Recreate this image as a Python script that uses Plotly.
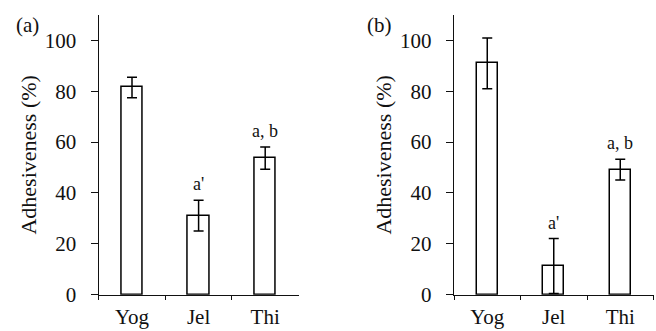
import plotly.graph_objects as go
from plotly.subplots import make_subplots

categories = ["Yog", "Jel", "Thi"]
values_a = [81.5, 31.1, 53.7]
errors_a = [4.0, 6.0, 4.4]
values_b = [91.0, 11.3, 49.2]
errors_b = [10.0, 10.8, 4.1]
labels_a = ["", "a'", "a, b"]
labels_b = ["", "a'", "a, b"]
yticks = [0, 20, 40, 60, 80, 100]

FONT = "Liberation Serif"
W, H = 656, 331
FS = 21

fig = make_subplots(rows=1, cols=2)

for col, vals, errs in [(1, values_a, errors_a), (2, values_b, errors_b)]:
    fig.add_trace(go.Bar(
        x=categories, y=vals,
        width=0.32,
        marker=dict(color="white", line=dict(color="black", width=1.5)),
        error_y=dict(type="data", array=errs, visible=True,
                     color="black", thickness=1.5, width=5),
        showlegend=False,
    ), row=1, col=col)

ydom = [(331 - 294.7) / H, (331 - 15) / H]
fig.update_layout(
    width=W, height=H,
    margin=dict(l=0, r=0, t=0, b=0, autoexpand=False),
    plot_bgcolor="white", paper_bgcolor="white",
    font=dict(family=FONT, size=FS, color="#111"),
    xaxis=dict(domain=[98.7 / W, 298.5 / W]),
    xaxis2=dict(domain=[454 / W, 653.5 / W]),
    yaxis=dict(domain=ydom),
    yaxis2=dict(domain=ydom),
    bargap=0,
)

for ax in ["xaxis", "xaxis2"]:
    fig.layout[ax].update(
        automargin=False,
        showline=True, linecolor="#111", linewidth=1.4,
        ticks="outside", tickson="boundaries", ticklen=4, tickwidth=1.2,
        tickcolor="#111", showgrid=False, zeroline=False,
        tickfont=dict(family=FONT, size=FS, color="#111"),
        ticklabelstandoff=3,
    )
for ax in ["yaxis", "yaxis2"]:
    fig.layout[ax].update(
        automargin=False,
        range=[0, 110], showline=True, linecolor="#111", linewidth=1.4,
        ticks="outside", ticklen=7, tickwidth=1.2, tickcolor="#111",
        tickvals=yticks, showgrid=False, zeroline=False,
        tickfont=dict(family=FONT, size=FS, color="#111"),
        ticklabelstandoff=10,
        title=dict(text="Adhesiveness (%)", standoff=2,
                   font=dict(family=FONT, size=FS + 1, color="#111")),
    )

for xr, yr, vals, errs, labs in [("x", "y", values_a, errors_a, labels_a),
                                 ("x2", "y2", values_b, errors_b, labels_b)]:
    for c, v, e, t in zip(categories, vals, errs, labs):
        if t:
            fig.add_annotation(x=c, y=v + e, xref=xr, yref=yr, text=t,
                               showarrow=False, yanchor="bottom", yshift=4,
                               font=dict(family=FONT, size=18, color="#111"))

fig.add_annotation(x=27.5 / W, y=1 - 25 / H, xref="paper", yref="paper",
                   text="(a)", showarrow=False, xanchor="center", yanchor="middle",
                   font=dict(family=FONT, size=FS, color="#111"))
fig.add_annotation(x=379.5 / W, y=1 - 25 / H, xref="paper", yref="paper",
                   text="(b)", showarrow=False, xanchor="center", yanchor="middle",
                   font=dict(family=FONT, size=FS, color="#111"))

fig.write_html("out.html")
